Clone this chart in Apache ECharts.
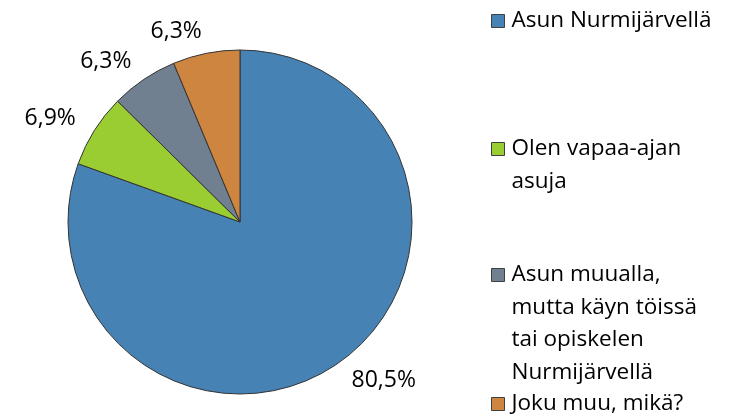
<!DOCTYPE html>
<html>
<head>
<meta charset="utf-8">
<script src="https://cdn.jsdelivr.net/npm/echarts@6/dist/echarts.min.js"></script>
<style>html,body{margin:0;padding:0;background:#fff}#c{width:735px;height:417px}</style>
</head>
<body>
<div id="c"></div>
<script>
const categories = ['Asun Nurmijärvellä', 'Olen vapaa-ajan asuja', 'Asun muualla, mutta käyn töissä tai opiskelen Nurmijärvellä', 'Joku muu, mikä?'];
const values = [80.5, 6.9, 6.3, 6.3];
const legendLines = [
  ['Asun Nurmijärvellä'],
  ['Olen vapaa-ajan', 'asuja'],
  ['Asun muualla,', 'mutta käyn töissä', 'tai opiskelen', 'Nurmijärvellä'],
  ['Joku muu, mikä?']
];
const colors = ['#4682B4', '#9ACD32', '#708090', '#CD853F'];

const FONT = 'Open Sans';
const LH = 32.4;
const legendCenters = [21, 149, 275, 404];

const legends = categories.map((name, i) => {
  const lines = legendLines[i];
  const n = lines.length;
  const txt = new Array(n - 1).fill('').concat(lines).join('\n');
  return {
    data: [name],
    orient: 'vertical',
    left: 491,
    top: legendCenters[i] - (2 * n - 1) * LH / 2,
    padding: 0,
    icon: 'rect',
    itemWidth: 13,
    itemHeight: 13,
    itemGap: 0,
    selectedMode: false,
    itemStyle: { borderColor: '#404040', borderWidth: 1 },
    textStyle: { fontFamily: FONT, fontSize: 22.5, color: '#000', lineHeight: LH, padding: [0, 0, 0, 2] },
    formatter: () => txt
  };
});

const chart = echarts.init(document.getElementById('c'), null, { renderer: 'canvas' });
chart.setOption({
  animation: false,
  color: colors,
  legend: legends,
  series: [{
    type: 'pie',
    center: [240, 222],
    radius: [0, 172],
    startAngle: 90,
    clockwise: true,
    avoidLabelOverlap: false,
    itemStyle: { borderColor: '#333', borderWidth: 1 },
    label: {
      show: true,
      position: 'outside',
      fontFamily: FONT,
      fontSize: 23,
      color: '#000',
      distanceToLabelLine: 0,
      formatter: p => p.value.toFixed(1).replace('.', ',') + '%'
    },
    labelLine: { show: false, length: 22, length2: 0 },
    emphasis: { disabled: true },
    data: categories.map((c, i) => ({ name: c, value: values[i] }))
  }]
});
</script>
</body>
</html>
